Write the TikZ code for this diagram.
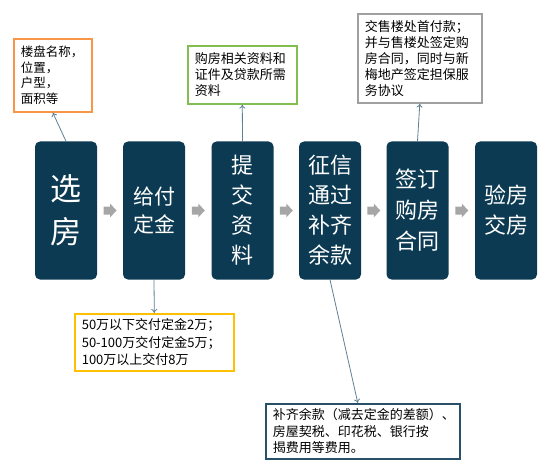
\documentclass[tikz,border=0pt]{standalone}
\usepackage{fontspec}
\setmainfont{Noto Sans CJK SC}
\usetikzlibrary{arrows.meta,calc}
\definecolor{boxblue}{RGB}{12,58,82}
\definecolor{blockgray}{RGB}{166,166,166}
\definecolor{linkc}{RGB}{96,128,148}
\definecolor{cOrange}{RGB}{247,150,70}
\definecolor{cGreen}{RGB}{130,190,80}
\definecolor{cGray}{RGB}{160,160,160}
\definecolor{cYellow}{RGB}{255,192,0}
\definecolor{cDark}{RGB}{40,80,105}
\begin{document}
\begin{tikzpicture}[x=1pt,y=-1pt,
  stepbox/.style={rounded corners=5pt, fill=boxblue, minimum width=62pt, minimum height=138pt,
    inner sep=0pt, text=white, align=center},
  note/.style={draw=#1, line width=1.6pt, fill=white, anchor=north west, inner xsep=7pt,
    inner ysep=0pt, align=left, text=black, font=\fontsize{13}{16}\selectfont},
  link/.style={draw=linkc, line width=0.8pt, -{To[length=4pt,width=6pt]}}
]
\useasboundingbox (0,0) rectangle (554,468);

\node[stepbox, font=\fontsize{31}{43}\selectfont] (b1) at (66,210.5) {选\\房};
\node[stepbox, font=\fontsize{21}{28}\selectfont] (b2) at (154,210.5) {给付\\定金};
\node[stepbox, font=\fontsize{22}{30}\selectfont] (b3) at (242.5,210.5) {提\\交\\资\\料};
\node[stepbox, font=\fontsize{22}{30}\selectfont] (b4) at (330,210.5) {征信\\通过\\补齐\\余款};
\node[stepbox, font=\fontsize{22}{31}\selectfont] (b5) at (417.5,210.5) {签订\\购房\\合同};
\node[stepbox, font=\fontsize{22}{30}\selectfont] (b6) at (506,210.5) {验房\\交房};

\foreach \a/\b/\n in {b1/b2/a1,b2/b3/a2,b3/b4/a3,b4/b5/a4,b5/b6/a5}{
  \coordinate (\n) at ($(\a.east)!0.5!(\b.west)$);
  \fill[blockgray] ($(\n)+(-6.5,-4)$) -- ($(\n)+(0,-4)$) -- ($(\n)+(0,-7)$) -- ($(\n)+(6.5,0)$)
    -- ($(\n)+(0,7)$) -- ($(\n)+(0,4)$) -- ($(\n)+(-6.5,4)$) -- cycle;
}

\node[note=cOrange, text width=64pt, minimum height=73pt, font=\fontsize{12.5}{15.5}\selectfont] (c1) at (13,38)
  {楼盘名称，\\位置，\\户型，\\面积等};
\node[note=cGreen, text width=95pt, minimum height=58pt] (c2) at (187,45)
  {购房相关资料和\\证件及贷款所需\\资料};
\node[note=cGray, text width=110pt, minimum height=89pt] (c3) at (357,13)
  {交售楼处首付款；\\并与售楼处签定购\\房合同，同时与新\\梅地产签定担保服\\务协议};
\node[note=cYellow, text width=145pt, minimum height=57pt, font=\fontsize{13}{17.5}\selectfont] (c4) at (74,313)
  {50万以下交付定金2万；\\50-100万交付定金5万；\\100万以上交付8万};
\node[note=cDark, text width=180pt, minimum height=55pt, font=\fontsize{13}{16.5}\selectfont] (c5) at (265,403)
  {补齐余款（减去定金的差额）、\\房屋契税、印花税、银行按\\揭费用等费用。};

\draw[link] (b1.north) -- (c1.south);
\draw[link] (b3.north) -- (c2.south);
\draw[link] (b5.north) -- (c3.south);
\draw[link] (b2.south) -- (c4.north);
\draw[link] (b4.south) -- ([xshift=-5pt]c5.north);
\end{tikzpicture}
\end{document}
